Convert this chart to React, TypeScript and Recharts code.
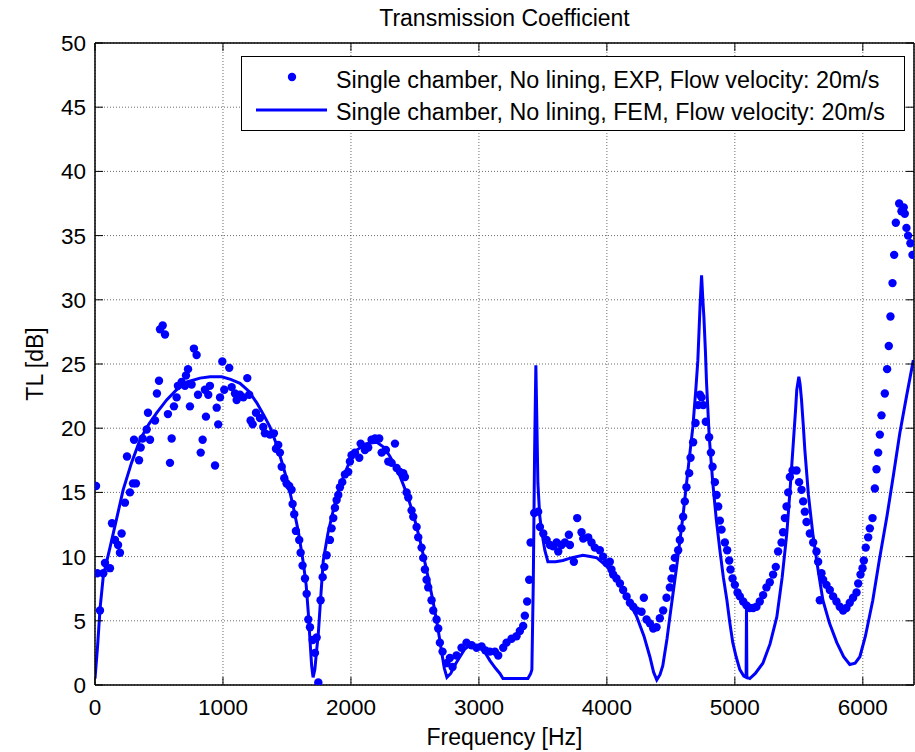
import { CartesianGrid, ComposedChart, Legend, Line, Scatter, XAxis, YAxis } from "recharts";

const FONT = "'Liberation Sans', Arial, Helvetica, sans-serif";
const BLUE = "#0000ff";

const xTicks = [0, 1000, 2000, 3000, 4000, 5000, 6000];
const yTicks = [0, 5, 10, 15, 20, 25, 30, 35, 40, 45, 50];

const expLabel = "Single chamber, No lining, EXP, Flow velocity: 20m/s";
const femLabel = "Single chamber, No lining, FEM, Flow velocity: 20m/s";

// measured points (EXP)
const expHz = [
  8, 18, 39, 65, 78, 117, 133, 156, 180, 195, 208, 234, 250, 273, 297, 305, 320, 344, 357, 372,
  404, 414, 430, 469, 484, 500, 508, 529, 547, 570, 586, 599, 617, 638, 648, 677, 703, 711, 727, 742,
  755, 773, 794, 805, 826, 841, 859, 867, 885, 898, 938, 951, 963, 977, 995, 1010, 1049, 1068, 1094, 1107,
  1133, 1159, 1190, 1205, 1216, 1232, 1258, 1289, 1315, 1328, 1367, 1398, 1414, 1432, 1445, 1459, 1479, 1497, 1518, 1536,
  1544, 1557, 1570, 1596, 1607, 1622, 1641, 1654, 1667, 1680, 1701, 1719, 1732, 1745, 1763, 1779, 1792, 1810, 1836, 1849,
  1862, 1875, 1888, 1901, 1914, 1932, 1953, 1979, 1992, 2005, 2031, 2065, 2076, 2109, 2135, 2161, 2188, 2221, 2240, 2273,
  2292, 2318, 2344, 2357, 2383, 2409, 2422, 2435, 2448, 2474, 2487, 2513, 2526, 2552, 2565, 2578, 2591, 2604, 2630, 2643,
  2669, 2682, 2695, 2716, 2747, 2773, 2794, 2825, 2864, 2903, 2943, 2982, 3021, 3050, 3086, 3125, 3151, 3190, 3216, 3255,
  3294, 3320, 3346, 3359, 3377, 3393, 3404, 3432, 3463, 3477, 3503, 3529, 3555, 3581, 3607, 3620, 3646, 3672, 3703, 3711,
  3742, 3768, 3802, 3815, 3854, 3880, 3906, 3945, 3971, 3997, 4023, 4036, 4049, 4075, 4102, 4127, 4154, 4180, 4206, 4232,
  4271, 4289, 4310, 4336, 4362, 4388, 4414, 4440, 4466, 4492, 4505, 4518, 4531, 4557, 4570, 4583, 4596, 4609, 4622, 4643,
  4654, 4674, 4693, 4713, 4727, 4740, 4753, 4773, 4799, 4813, 4826, 4844, 4857, 4870, 4883, 4896, 4922, 4940, 4956, 4966,
  4982, 5000, 5021, 5039, 5065, 5091, 5117, 5143, 5169, 5195, 5221, 5247, 5273, 5299, 5320, 5338, 5365, 5377, 5391, 5404,
  5417, 5430, 5451, 5482, 5502, 5521, 5534, 5547, 5560, 5586, 5612, 5638, 5651, 5664, 5677, 5690, 5716, 5742, 5768, 5794,
  5820, 5846, 5872, 5898, 5924, 5951, 5964, 5982, 5998, 6008, 6023, 6042, 6055, 6076, 6094, 6107, 6120, 6133, 6146, 6172,
  6190, 6203, 6216, 6232, 6245, 6258, 6284, 6302, 6320, 6328, 6341, 6354, 6372, 6388,
];
const expTL = [
  15.5, 8.7, 5.8, 8.7, 9.5, 9.1, 12.6, 11.3, 10.9, 10.3, 11.8, 14.2, 17.8, 15.0, 15.7, 19.1, 15.7, 17.5, 18.5, 19.2,
  19.9, 21.2, 19.1, 20.6, 22.7, 23.7, 27.7, 28.0, 27.3, 21.1, 17.3, 19.2, 21.7, 22.4, 23.3, 23.6, 23.3, 24.1, 24.6, 21.7,
  23.4, 26.2, 25.7, 22.6, 18.1, 19.1, 23.0, 20.9, 22.6, 23.3, 17.1, 21.6, 20.3, 22.4, 25.2, 23.0, 24.7, 23.2, 22.7, 22.2,
  22.6, 22.4, 23.9, 22.6, 20.6, 20.3, 21.2, 20.8, 20.1, 19.6, 19.5, 19.6, 18.4, 18.7, 18.1, 17.0, 16.1, 15.7, 15.5, 15.2,
  14.1, 13.3, 12.0, 11.3, 10.3, 9.3, 8.3, 7.1, 5.1, 4.5, 3.5, 2.5, 3.7, 0.2, 6.6, 8.4, 9.2, 10.1, 11.3, 12.2,
  13.0, 13.8, 14.4, 14.8, 15.4, 15.8, 16.4, 16.6, 17.4, 17.9, 18.1, 17.7, 18.8, 18.3, 18.5, 19.1, 19.2, 19.2, 18.1, 18.3,
  17.4, 17.3, 18.8, 16.9, 16.6, 16.5, 16.2, 15.0, 14.6, 13.6, 13.1, 12.3, 11.5, 10.7, 9.9, 9.0, 8.2, 7.6, 6.6, 5.8,
  5.1, 4.4, 3.3, 2.6, 1.7, 2.1, 1.4, 2.3, 2.9, 3.3, 3.1, 2.9, 3.0, 2.7, 2.6, 2.6, 2.3, 2.9, 3.3, 3.6,
  3.8, 4.2, 4.6, 5.4, 6.5, 8.2, 11.1, 13.4, 13.5, 12.3, 11.8, 11.3, 10.9, 10.8, 11.1, 10.4, 10.9, 11.1, 11.7, 10.9,
  9.6, 13.0, 11.9, 11.4, 11.5, 11.1, 10.7, 10.5, 10.0, 9.5, 9.6, 9.0, 8.6, 8.3, 7.9, 7.4, 6.9, 6.4, 6.1, 5.8,
  5.7, 6.8, 5.1, 4.8, 4.4, 4.5, 5.2, 5.8, 6.8, 7.6, 8.3, 9.1, 9.9, 10.5, 11.3, 12.2, 13.1, 14.3, 15.4, 16.5,
  17.7, 18.9, 20.4, 21.8, 22.6, 22.4, 21.8, 20.5, 19.3, 18.1, 17.0, 15.8, 14.8, 13.9, 12.8, 12.1, 11.1, 10.5, 9.7, 9.0,
  8.3, 7.8, 7.2, 6.9, 6.5, 6.2, 6.0, 6.0, 6.1, 6.5, 7.0, 7.6, 8.0, 8.6, 9.2, 10.4, 11.1, 11.9, 13.0, 13.9,
  15.0, 16.2, 16.7, 16.7, 15.8, 15.2, 14.3, 13.5, 12.7, 11.8, 11.1, 10.4, 9.6, 6.6, 8.7, 8.2, 7.8, 7.4, 6.9, 6.5,
  6.1, 5.8, 6.0, 6.4, 6.8, 7.2, 7.9, 8.6, 9.1, 9.7, 10.7, 11.5, 12.2, 13.0, 15.3, 16.8, 18.1, 19.5, 21.0, 22.7,
  24.6, 26.4, 28.7, 31.3, 33.5, 36.0, 37.5, 36.9, 37.2, 36.7, 35.6, 35.0, 34.4, 33.5,
];

// simulated curve (FEM)
const femHz = [
  0, 20, 40, 65, 117, 170, 220, 285, 352, 420, 482, 560, 638, 720, 820, 900, 990, 1060, 1133, 1200,
  1263, 1320, 1367, 1420, 1471, 1510, 1549, 1590, 1628, 1650, 1667, 1680, 1693, 1704, 1718, 1730, 1745, 1765, 1784, 1820,
  1862, 1900, 1940, 1990, 2046, 2120, 2203, 2260, 2305, 2370, 2437, 2490, 2539, 2590, 2640, 2680, 2710, 2730, 2750, 2780,
  2815, 2852, 2890, 2930, 2970, 3008, 3050, 3086, 3130, 3164, 3188, 3300, 3383, 3405, 3414, 3425, 3435, 3445, 3452, 3461,
  3475, 3490, 3515, 3539, 3600, 3656, 3720, 3813, 3870, 3922, 3970, 4023, 4075, 4125, 4180, 4234, 4290, 4336, 4365, 4390,
  4415, 4437, 4470, 4492, 4545, 4594, 4640, 4672, 4695, 4711, 4728, 4740, 4750, 4758, 4770, 4779, 4800, 4828, 4855, 4883,
  4910, 4938, 4960, 4984, 5010, 5039, 5070, 5088, 5091, 5094, 5117, 5160, 5219, 5275, 5328, 5370, 5406, 5430, 5453, 5475,
  5484, 5500, 5510, 5521, 5535, 5547, 5575, 5609, 5650, 5688, 5740, 5797, 5850, 5898, 5940, 5977, 6020, 6078, 6130, 6188,
  6240, 6289, 6340, 6395,
];
const femTL = [
  0.5, 3.0, 6.0, 8.5, 10.7, 13.0, 15.2, 17.3, 19.1, 20.3, 21.2, 22.2, 23.0, 23.6, 23.9, 24.0, 24.0, 23.8, 23.5, 22.9,
  22.0, 21.0, 20.1, 18.7, 17.0, 15.6, 13.9, 11.9, 9.5, 7.8, 5.6, 3.5, 1.5, 0.6, 1.2, 2.5, 4.0, 7.0, 9.7, 11.8,
  13.6, 15.1, 16.2, 17.4, 18.3, 18.8, 18.9, 18.5, 17.8, 16.6, 14.9, 13.2, 11.3, 9.0, 6.6, 4.4, 2.5, 1.3, 0.6, 0.9,
  1.6, 2.2, 2.8, 3.1, 3.1, 2.9, 2.5, 1.9, 1.3, 0.9, 0.5, 0.5, 0.5, 0.9, 1.2, 8.0, 18.0, 24.9, 21.0, 15.7,
  13.2, 12.0, 10.5, 9.6, 9.6, 9.7, 9.9, 10.1, 10.0, 9.9, 9.5, 9.0, 8.3, 7.4, 6.4, 5.3, 3.8, 2.2, 1.0, 0.4,
  0.8, 1.5, 3.6, 5.3, 9.2, 13.1, 17.3, 20.1, 23.0, 25.3, 29.5, 31.9, 30.0, 28.7, 26.0, 23.5, 19.3, 15.7, 12.9, 10.5,
  8.4, 6.6, 4.9, 3.3, 2.2, 1.2, 0.7, 0.6, 6.2, 0.6, 0.5, 0.9, 1.7, 3.2, 5.3, 8.4, 11.8, 15.0, 18.3, 21.5,
  23.0, 24.0, 23.4, 22.2, 20.2, 18.3, 14.8, 11.8, 9.0, 6.6, 4.8, 3.3, 2.2, 1.6, 1.7, 2.2, 3.8, 6.6, 9.8, 13.1,
  16.4, 19.6, 22.4, 25.3,
];

const expData = expHz.map((hz, i) => ({ hz, tl: expTL[i] }));
const femData = femHz.map((hz, i) => ({ hz, tl: femTL[i] }));

const tickFont = { fontFamily: FONT, fontSize: 22.5, fill: "#000" };
const axisLine = { stroke: "#000", strokeWidth: 1.5 };

const Dot = (props: any) => <circle cx={props.cx} cy={props.cy} r={4.2} fill={BLUE} />;
const NoTick = () => <g />;

function LegendBox() {
  return (
    <svg width={664} height={75} style={{ display: "block" }}>
      <rect x={0.5} y={0.5} width={663} height={74} fill="#fff" stroke="#000" strokeWidth={1} />
      <circle cx={51} cy={21} r={4.2} fill={BLUE} />
      <line x1={15} y1={54} x2={86} y2={54} stroke={BLUE} strokeWidth={3} />
      <text x={95} y={32} fontFamily={FONT} fontSize={23.3} fill="#000">
        {expLabel}
      </text>
      <text x={95} y={64} fontFamily={FONT} fontSize={23.3} fill="#000">
        {femLabel}
      </text>
    </svg>
  );
}

export default function App() {
  return (
    <div style={{ position: "absolute", left: 0, top: 0, width: 915, height: 752, background: "#fff" }}>
      <ComposedChart width={915} height={752} margin={{ top: 42, right: 0, bottom: 0, left: 0 }}>
        <CartesianGrid stroke="#444" strokeWidth={0.8} strokeDasharray="1 2" />
        <XAxis
          dataKey="hz"
          type="number"
          domain={[0, 6400]}
          ticks={xTicks}
          allowDataOverflow
          height={67}
          axisLine={axisLine}
          tickLine={{ stroke: "#000" }}
          tickSize={-8}
          tickMargin={22}
          tick={tickFont}
          label={{ value: "Frequency [Hz]", position: "insideBottom", offset: 7, style: { fontFamily: FONT, fontSize: 23, fill: "#000" } }}
        />
        <XAxis
          xAxisId="top"
          orientation="top"
          dataKey="hz"
          type="number"
          domain={[0, 6400]}
          ticks={xTicks}
          allowDataOverflow
          height={1}
          axisLine={axisLine}
          tickLine={{ stroke: "#000" }}
          tickSize={-8}
          tick={<NoTick />}
          label={{ value: "Transmission Coefficient", position: "top", offset: 16, style: { fontFamily: FONT, fontSize: 23, fill: "#000" } }}
        />
        <YAxis
          type="number"
          domain={[0, 50]}
          ticks={yTicks}
          allowDataOverflow
          width={95}
          axisLine={axisLine}
          tickLine={{ stroke: "#000" }}
          tickSize={-8}
          tickMargin={17}
          tick={tickFont}
          label={{ value: "TL [dB]", angle: -90, position: "insideLeft", offset: 35, style: { fontFamily: FONT, fontSize: 23, fill: "#000", textAnchor: "middle" } }}
        />
        <YAxis
          yAxisId="right"
          orientation="right"
          type="number"
          domain={[0, 50]}
          ticks={yTicks}
          allowDataOverflow
          width={1}
          axisLine={axisLine}
          tickLine={{ stroke: "#000" }}
          tickSize={-8}
          tick={<NoTick />}
        />
        <Legend
          layout="vertical"
          verticalAlign="middle"
          align="center"
          wrapperStyle={{ left: 241, top: 56, width: 664, height: 75 }}
          content={() => <LegendBox />}
        />
        <Scatter name={expLabel} data={expData} dataKey="tl" shape={<Dot />} isAnimationActive={false} />
        <Line
          name={femLabel}
          data={femData}
          dataKey="tl"
          type="linear"
          stroke={BLUE}
          strokeWidth={3}
          dot={false}
          activeDot={false}
          isAnimationActive={false}
        />
      </ComposedChart>
    </div>
  );
}
